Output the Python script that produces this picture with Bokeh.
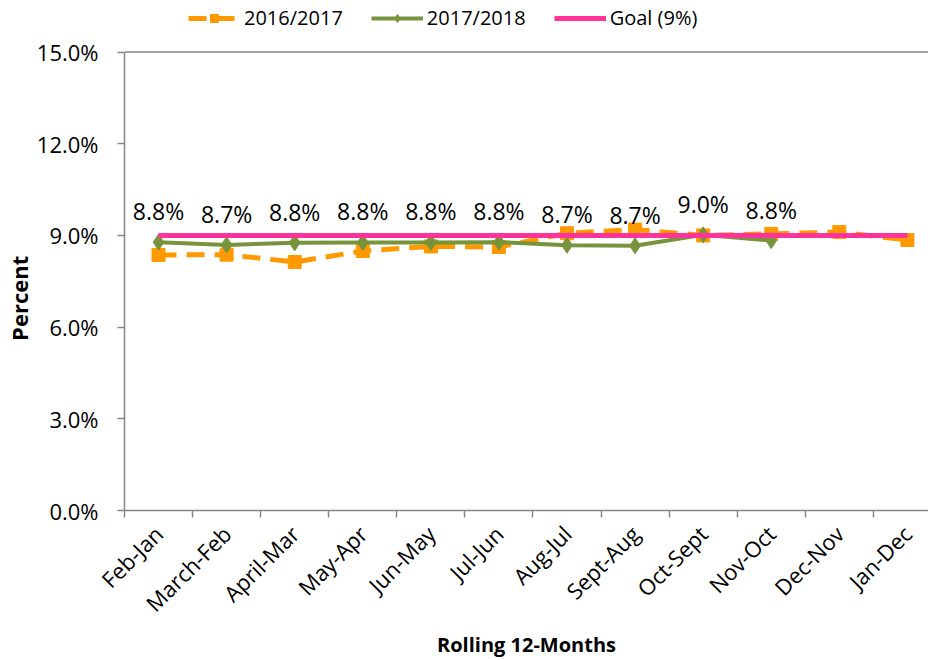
import math
from bokeh.plotting import figure
from bokeh.models import Range1d, FixedTicker, Legend, LegendItem, PrintfTickFormatter, Span
from bokeh.core.properties import value
from bokeh.embed import file_html
from bokeh.resources import INLINE

categories = ["Feb-Jan", "March-Feb", "April-Mar", "May-Apr", "Jun-May", "Jul-Jun",
              "Aug-Jul", "Sept-Aug", "Oct-Sept", "Nov-Oct", "Dec-Nov", "Jan-Dec"]
y2016 = [8.36, 8.37, 8.13, 8.49, 8.64, 8.62, 9.07, 9.19, 9.00, 9.05, 9.11, 8.85]
y2017 = [8.78, 8.69, 8.76, 8.77, 8.77, 8.78, 8.68, 8.66, 9.02, 8.83]
goal = [9.0, 9.0, 9.0, 9.0, 9.0, 9.0, 9.0, 9.0, 9.0, 9.0, 9.0, 9.0]
y_ticks = [0, 3, 6, 9, 12, 15]

FONT = "Open Sans"
GRAY = "#868686"
ORANGE = "#FF9900"
GREEN = "#77933C"
PINK = "#FF3399"

x_all = list(range(len(categories)))
x2017 = x_all[:len(y2017)]

X0 = -0.5
p = figure(width=928, height=660, output_backend="svg", toolbar_location=None,
           x_range=Range1d(X0, 11.31), y_range=Range1d(0, 16.685),
           min_border_left=124, min_border_right=0, min_border_bottom=145, min_border_top=0)
p.background_fill_color = "white"
p.border_fill_color = "white"
p.outline_line_color = None
p.xgrid.visible = False
p.ygrid.visible = False
# top border of the plot area
p.add_layout(Span(location=y_ticks[-1], dimension="width", line_color=GRAY, line_width=1.5))

r16_line = p.line(x_all, y2016, line_color=ORANGE, line_width=5, line_dash="18 10")
r16_pts = p.scatter(x_all, y2016, marker="square", size=13, fill_color=ORANGE, line_color=ORANGE)
r17_line = p.line(x2017, y2017, line_color=GREEN, line_width=4)
r17_pts = p.scatter(x2017, y2017, marker="diamond", size=16, fill_color=GREEN, line_color=GREEN)
rgoal = p.line(x_all, goal, line_color=PINK, line_width=5)

labels = ["%.1f%%" % v for v in y2017]
p.text(x2017, y2017, text=labels, y_offset=-31, text_align="center", text_baseline="middle",
       text_font=value(FONT), text_font_size="23px", text_color="black")

# axes
xa = p.xaxis[0]
xa.ticker = FixedTicker(ticks=x_all, minor_ticks=[i - 0.5 for i in range(len(categories) + 1)])
xa.major_label_overrides = {i: c for i, c in enumerate(categories)}
xa.major_label_orientation = math.pi / 4
xa.major_tick_line_color = None
xa.minor_tick_out = 7
xa.minor_tick_in = 0
xa.minor_tick_line_color = GRAY
xa.minor_tick_line_width = 1.5
xa.axis_line_color = GRAY
xa.axis_line_width = 1.5
xa.major_label_text_font = FONT
xa.major_label_text_font_size = "22px"
xa.major_label_text_color = "black"
xa.major_label_standoff = 12
xa.axis_label = "Rolling 12-Months"
xa.axis_label_text_font = FONT
xa.axis_label_text_font_style = "bold"
xa.axis_label_text_font_size = "20px"
xa.axis_label_text_color = "black"
xa.axis_label_standoff = 0

ya = p.yaxis[0]
ya.ticker = FixedTicker(ticks=y_ticks, minor_ticks=[])
ya.formatter = PrintfTickFormatter(format="%.1f%%")
ya.bounds = (y_ticks[0], y_ticks[-1])
ya.major_tick_out = 7
ya.major_tick_in = 0
ya.major_tick_line_color = GRAY
ya.major_tick_line_width = 1.5
ya.axis_line_color = GRAY
ya.axis_line_width = 1.5
ya.major_label_text_font = FONT
ya.major_label_text_font_size = "22px"
ya.major_label_text_color = "black"
ya.major_label_standoff = 19
ya.axis_label = "Percent" + "\u00a0" * 15
ya.axis_label_text_font = FONT
ya.axis_label_text_font_style = "bold"
ya.axis_label_text_font_size = "22px"
ya.axis_label_text_color = "black"
ya.axis_label_standoff = 0

legend = Legend(items=[
    LegendItem(label="2016/2017", renderers=[r16_line, r16_pts]),
    LegendItem(label="2017/2018", renderers=[r17_line, r17_pts]),
    LegendItem(label="Goal (9%)", renderers=[rgoal]),
], orientation="horizontal", location=(64, 479))
legend.label_text_font = FONT
legend.label_text_font_size = "20px"
legend.label_text_color = "black"
legend.glyph_width = 52
legend.glyph_height = 20
legend.label_standoff = 4
legend.spacing = 28
legend.padding = 2
legend.margin = 0
legend.border_line_color = None
legend.background_fill_alpha = 0
p.add_layout(legend)

open("out.html", "w").write(file_html(p, INLINE))
